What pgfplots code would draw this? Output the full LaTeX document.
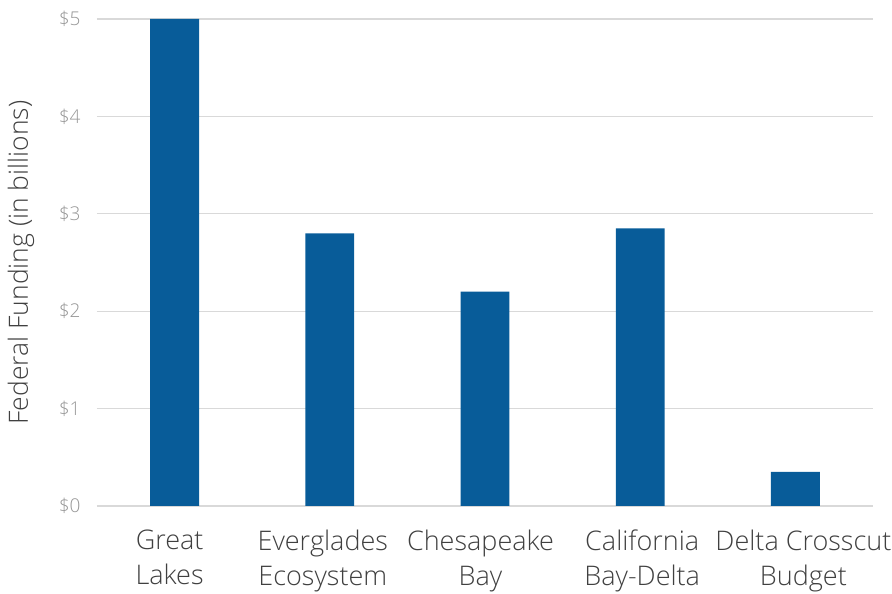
\documentclass[border=0pt]{standalone}
\usepackage{fontspec}
\setmainfont{Open Sans}[UprightFont={* Light}]
\usepackage{pgfplots}
\pgfplotsset{compat=1.18}
\definecolor{barblue}{RGB}{8,92,153}
\definecolor{gridgray}{RGB}{217,217,217}
\definecolor{tickgray}{RGB}{150,150,150}
\definecolor{labgray}{RGB}{64,64,64}
\begin{document}
\begin{tikzpicture}
\path[use as bounding box] (-97pt,-88pt) rectangle (795pt,506pt);
\begin{axis}[
  scale only axis,
  width=776pt, height=487pt,
  at={(0pt,0pt)}, anchor=south west,
  xmin=-0.5, xmax=4.5, ymin=0, ymax=5,
  axis line style={draw=none},
  ybar, bar width=0.315,
  xtick={0,1,2,3,4},
  xticklabels={{Great\hspace*{10pt}\\Lakes\hspace*{10pt}},{Everglades\hspace*{14pt}\\Ecosystem\hspace*{14pt}},{Chesapeake\hspace*{9pt}\\Bay\hspace*{9pt}},{\hspace*{4pt}California\\\hspace*{4pt}Bay-Delta},{\hspace*{16pt}Delta Crosscut\\\hspace*{16pt}Budget}},
  xticklabel style={align=center, font=\fontsize{27}{35}\selectfont, text=labgray, yshift=-20pt},
  ytick={0,1,2,3,4,5},
  yticklabels={\$0,\$1,\$2,\$3,\$4,\$5},
  yticklabel style={font=\fontsize{19}{22}\selectfont, text=tickgray, xshift=-13pt},
  major tick length=0pt,
  ymajorgrids, grid style={gridgray, line width=1.3pt},
  ylabel={Federal Funding (in billions)},
  ylabel style={font=\fontsize{26.5}{30}\selectfont, text=labgray, at={(axis description cs:-0.098,0.5)}, anchor=center},
]
\addplot[fill=barblue, draw=none] coordinates {(0,5.0) (1,2.8) (2,2.2) (3,2.85) (4,0.35)};
\end{axis}
\end{tikzpicture}
\end{document}
